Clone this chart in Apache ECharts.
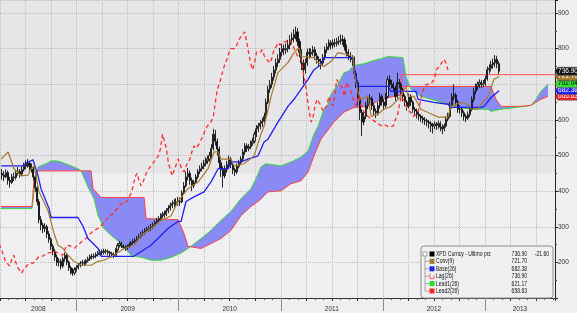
<!DOCTYPE html>
<html>
<head>
<meta charset="utf-8">
<script src="https://cdn.jsdelivr.net/npm/echarts@6/dist/echarts.min.js"></script>
<style>
  html, body { margin: 0; padding: 0; background: #efeef0; }
  #chart { width: 577px; height: 313px; }
</style>
</head>
<body>
<div id="chart"></div>
<script>
// weekly bars; week 0 is the first week of April 2008
const firstWeek = 2008.2703;
const weeksPerYear = 52.18;
const X_MIN = 2008.25, X_MAX = 2013.686;

const opens = [
  450,445,440,452,430,425,440,438,450,455,448,460,
  470,475,478,470,462,440,410,370,320,305,295,300,280,
  265,245,231,215,200,203,190,210,220,200,185,178,170,
  180,185,192,198,200,198,205,210,217,215,218,222,226,
  230,228,232,231,228,224,222,220,235,248,253,246,242,
  240,245,250,255,259,262,268,273,280,284,290,293,295,
  300,305,312,318,323,331,335,337,345,352,360,365,368,
  370,372,370,395,415,440,450,430,415,425,440,455,463,
  470,478,485,490,500,520,560,540,518,480,460,443,460,
  475,490,475,460,454,470,480,490,510,527,520,525,535,
  540,560,575,583,590,596,610,650,686,700,720,740,760,
  770,790,800,797,800,810,825,830,840,847,820,789,760,
  741,760,790,785,790,797,780,770,765,760,775,797,805,817,
  810,817,815,820,822,825,825,805,790,780,775,770,730,
  705,660,621,594,610,640,658,660,640,625,620,640,666,
  650,640,666,713,705,700,690,666,705,700,685,666,650,
  638,666,650,630,625,615,610,605,600,598,594,590,585,
  583,588,585,590,580,575,583,602,610,640,665,670,650,
  630,630,620,610,605,615,630,658,680,694,700,705,700,
  702,715,741,745,755,760,770,758
];
const closes = [
  445,440,452,430,425,440,438,450,455,448,460,470,
  475,478,470,462,440,410,370,320,305,295,300,280,265,
  245,231,215,200,203,190,210,220,200,185,178,170,180,
  185,192,198,200,198,205,210,217,215,218,222,226,230,
  228,232,231,228,224,222,220,235,248,253,246,242,240,
  245,250,255,259,262,268,273,280,284,290,293,295,300,
  305,312,318,323,331,335,337,345,352,360,365,368,370,
  372,370,395,415,440,450,430,415,425,440,455,463,470,
  478,485,490,500,520,560,540,518,480,460,443,460,475,
  490,475,460,454,470,480,490,510,527,520,525,535,540,
  560,575,583,590,596,610,650,686,700,720,740,760,770,
  790,800,797,800,810,825,830,840,847,820,789,760,741,
  760,790,785,790,797,780,770,765,760,775,797,805,817,810,
  817,815,820,822,825,825,805,790,780,775,770,730,705,
  660,621,594,610,640,658,660,640,625,620,640,666,650,
  640,666,713,705,700,690,666,705,700,685,666,650,638,
  666,650,630,625,615,610,605,600,598,594,590,585,583,
  588,585,590,580,575,583,602,610,640,665,670,650,630,
  630,620,610,605,615,630,658,680,694,700,705,700,702,
  715,741,745,755,760,770,758,737
];
const lows = [
  432,428,436,418,410,420,428,432,444,438,442,455,
  462,466,458,452,430,398,360,310,290,282,285,268,255,
  235,220,205,190,188,180,184,202,192,176,166,162,164,
  174,180,186,190,190,193,200,204,208,210,212,216,220,
  220,222,224,220,216,214,212,216,230,242,240,236,232,
  235,240,245,250,253,256,262,268,274,278,284,286,288,
  294,300,306,310,316,324,326,330,338,345,352,356,358,
  360,358,366,390,410,430,418,400,408,420,434,448,456,
  462,470,476,482,494,514,528,500,465,440,410,436,452,
  468,465,448,442,448,464,474,485,502,510,512,518,528,
  534,552,566,574,580,588,604,644,676,690,710,730,748,
  760,778,782,785,790,798,812,818,826,808,776,740,700,
  730,752,772,775,780,768,758,750,742,752,768,788,796,798,
  800,804,806,810,812,810,795,778,768,762,752,715,690,
  640,600,555,585,602,630,645,628,612,605,612,632,640,
  628,634,660,692,688,678,654,660,688,672,652,638,626,
  632,640,620,612,604,598,594,590,586,582,576,566,562,
  574,572,575,568,560,568,578,596,605,632,655,640,620,
  618,608,598,594,600,608,624,650,672,684,690,690,692,
  696,710,730,736,744,748,745,728
];
const highs = [
  462,456,461,458,440,448,452,458,468,462,470,480,
  486,490,484,478,468,446,415,378,330,312,310,306,288,
  270,252,238,222,212,210,216,228,225,205,190,184,186,
  192,198,204,207,206,210,216,222,224,225,228,232,236,
  236,238,238,236,232,230,228,240,254,260,258,250,248,
  250,256,260,265,268,274,280,286,290,296,300,302,308,
  312,318,325,330,338,342,345,352,360,368,374,378,380,
  384,382,402,425,455,465,458,438,432,448,462,472,480,
  488,495,500,510,532,575,572,548,525,488,470,472,485,
  500,496,480,466,478,488,498,518,535,534,532,542,550,
  568,585,592,600,606,620,660,696,712,732,752,772,784,
  802,814,812,815,825,838,845,855,862,858,828,798,770,
  772,800,802,800,808,805,788,778,772,785,806,815,826,824,
  826,828,830,835,840,838,832,812,798,790,782,778,738,
  712,670,630,622,650,668,672,666,648,632,650,676,672,
  658,675,722,725,712,706,696,733,715,706,690,672,656,
  674,672,655,636,632,622,616,612,608,604,600,596,592,
  596,594,598,596,588,590,610,620,650,675,700,676,656,
  640,636,626,616,624,640,666,690,702,708,714,712,712,
  724,750,756,766,772,782,780,765
];

// [week, value] vertices of the indicator lines
const conv = [[-0.5,490],[3.1,510],[6.1,463],[9.7,443],[13.3,445],[14.8,463],[16.4,471],[18.9,398],[23.5,345],[26.6,281],[28.6,248],[31.2,239],[33.7,220],[36.8,203],[40.4,192],[45.5,192],[49.1,203],[52.1,206],[57.2,220],[62.3,239],[67.4,248],[71,276],[76.1,295],[81.2,318],[86.4,331],[89.9,371],[95,407],[100.2,426],[105.3,463],[108.3,510],[110.4,510],[111.9,490],[117,490],[118.5,471],[123.7,477],[128.8,499],[132.3,560],[133.9,582],[137.5,666],[141,733],[146.1,761],[149.2,789],[151.8,803],[152.8,778],[159.4,775],[161.5,761],[164.5,750],[168.1,764],[171.7,789],[176.8,783],[179.4,778],[179.9,733],[181.9,677],[183.4,658],[187,666],[188.6,610],[192,616],[195.2,630],[198.8,638],[203.9,666],[206.4,694],[207.5,666],[210.5,666],[214.1,630],[222.8,608],[227.9,608],[229.4,638],[234.5,649],[238,644],[239.7,630],[243.2,630],[244.8,644],[248.3,666],[251.4,714],[254,722]];
const base = [[-0.5,471],[11.2,471],[12,479],[15.8,488],[18.4,443],[19.9,407],[24,351],[25,326],[38.8,326],[41.4,301],[43.9,267],[49.1,239],[50.6,217],[67.4,217],[76.1,248],[84.8,295],[89.9,315],[91.5,315],[94,371],[98.1,384],[103.2,398],[106.8,426],[110.4,463],[115.5,463],[117,482],[122.1,482],[125.7,490],[130.8,499],[133.9,538],[135.9,546],[141,594],[146.1,638],[149.2,658],[152.8,686],[156.4,714],[159.4,741],[163,755],[164.5,775],[179.4,775],[179.9,750],[181.9,694],[197.2,694],[198.8,680],[211.5,680],[212.6,658],[220.7,649],[227.9,644],[229.4,635],[244.8,635],[246.3,638],[249.9,663],[254,682]];
const lead1 = [[-0.5,351],[15.3,351],[16.4,401],[18.4,468],[22.5,477],[25,485],[27.6,485],[30.1,482],[35.3,471],[38.8,463],[40.4,457],[43.9,412],[47,379],[49.1,331],[52.1,295],[55.7,276],[60.8,253],[65.9,220],[72.6,212],[76.1,206],[81.2,206],[86.4,214],[91.5,226],[95,239],[101.7,267],[106.8,290],[111.9,318],[117,343],[122.1,379],[127.2,407],[129.8,435],[132.3,468],[134.9,477],[142.6,471],[147.7,482],[152.8,496],[156.4,513],[159.4,560],[161.5,582],[164.5,630],[166.6,644],[168.1,672],[171.7,700],[174.8,733],[176.8,736],[179.9,753],[185,758],[190.1,767],[193.7,772],[197.2,778],[204.9,775],[206.4,722],[209,686],[214.1,666],[219.2,658],[227.9,644],[233,635],[239.7,630],[248.3,630],[249.9,624],[255,630],[262.6,635],[270.3,641],[272.9,658],[275.4,680],[279,700]];
const lead2 = [[-0.5,357],[15.3,357],[16.4,435],[18.4,457],[45.5,457],[46.5,407],[50.6,382],[72.6,382],[73.6,323],[89.9,320],[93,281],[95,245],[101.7,239],[106.8,253],[111.9,267],[117,290],[122.1,331],[127.2,357],[131.3,373],[135.9,398],[142.6,401],[147.7,421],[152.8,429],[156.4,454],[157.9,477],[159.4,499],[163,546],[169.6,594],[174.8,622],[179.9,635],[187,638],[193.7,658],[200.3,666],[203.9,669],[205.4,694],[249.9,694],[252.4,658],[255,638],[265.2,638],[270.3,641],[275.4,658],[279,666]];
const refLine = [[203.9,694],[203.9,727],[283.1,727]];

const lagShift = 26;
const shadeFrom = 450;

const yearStarts = [2009, 2010, 2011, 2012, 2013];
const yearLabels = ['2008', '2009', '2010', '2011', '2012', '2013'];
const yearLabelPos = [2008.625, 2009.5, 2010.5, 2011.5, 2012.5, 2013.343];

const legendNames = ['XPD Curncy - Ultimo prz', 'Conv(9)', 'Base(26)', 'Lag(26)', 'Lead1(26)', 'Lead2(26)'];
const legendValues = ['736.90', '721.70', '682.38', '736.90', '621.17', '658.63'];
const legendColors = ['#000000', '#a47a2c', '#1f1fee', '#ff3030', '#22dd22', '#ff2020'];
const lastChange = '-21.60';

const tagValues = [666.63, 682.38, 702.04, 721.70, 736.90];
const tagTexts = ['666.63', '682.38', '702.04', '721.70', '736.90'];
const tagFill = ['#ee2222', '#2222ee', '#33dd33', '#a47a2c', '#111111'];
const tagInk = ['#fff', '#fff', '#000', '#fff', '#fff'];

function wkToYear(w) { return firstWeek + w / weeksPerYear; }
function toXY(list) { return list.map(p => [wkToYear(p[0]), p[1]]); }

const candles = closes.map((c, i) => [wkToYear(i), opens[i], c, lows[i], highs[i]]);
const lag = closes.map((c, i) => [wkToYear(i - lagShift), c]);

const chart = echarts.init(document.getElementById('chart'));
const font = 'Liberation Sans';
const legendFont = '7px "Liberation Sans", sans-serif';

chart.setOption({
  animation: false,
  backgroundColor: '#efeef0',
  grid: { left: -1, right: 22, top: 0, bottom: 13 },
  xAxis: [{
    type: 'value', min: X_MIN, max: X_MAX, interval: 0.25, position: 'bottom',
    axisLine: { onZero: false, lineStyle: { color: '#333' } },
    axisTick: { length: 3, lineStyle: { color: '#333' } },
    minorTick: { show: true, splitNumber: 3, length: 2, lineStyle: { color: '#555' } },
    axisLabel: { show: false },
    splitLine: { show: true, lineStyle: { color: '#bdbdbd', type: 'dotted' } }
  }, {
    type: 'value', min: X_MIN, max: X_MAX, position: 'bottom',
    axisLine: { show: false, onZero: false },
    axisTick: { show: true, customValues: yearStarts, length: 13, lineStyle: { color: '#8a8a8a' } },
    axisLabel: {
      customValues: yearLabelPos, margin: 8, fontSize: 6.5, color: '#333', fontFamily: font,
      formatter: v => {
        let k = 0;
        yearLabelPos.forEach((p, i) => { if (Math.abs(p - v) < Math.abs(yearLabelPos[k] - v)) k = i; });
        return yearLabels[k];
      }
    },
    splitLine: { show: false }
  }],
  yAxis: {
    type: 'value', position: 'right', min: 100, max: 936.7, interval: 100,
    axisLine: { show: true, lineStyle: { color: '#222' } },
    axisTick: { show: true, length: 3, lineStyle: { color: '#222' } },
    minorTick: { show: true, splitNumber: 2, length: 2, lineStyle: { color: '#444' } },
    axisLabel: { showMinLabel: false, showMaxLabel: false, fontSize: 6.5, color: '#333', margin: 3, fontFamily: font },
    splitLine: { lineStyle: { color: '#bdbdbd', type: 'dotted' } }
  },
  series: [
    {
      // cloud between Lead1 and Lead2
      type: 'custom', silent: true, z: 1,
      data: [[2010, 500]],
      renderItem: function (params, api) {
        const pts = toXY(lead1).map(p => api.coord(p))
          .concat(toXY(lead2).reverse().map(p => api.coord(p)));
        return { type: 'polygon', shape: { points: pts }, style: { fill: '#8a8af4' } };
      }
    },
    { type: 'line', data: toXY(lead1), showSymbol: false, z: 2, lineStyle: { color: '#33dd33', width: 1 } },
    { type: 'line', data: toXY(lead2), showSymbol: false, z: 2, lineStyle: { color: '#ff4040', width: 1 } },
    { type: 'line', data: toXY(refLine), showSymbol: false, z: 2, lineStyle: { color: '#ff5050', width: 1 } },
    {
      type: 'candlestick', data: candles, barWidth: 1.6, z: 3,
      itemStyle: { color: '#d8d8d8', color0: '#111111', borderColor: '#111111', borderColor0: '#111111', borderWidth: 0.9 }
    },
    { type: 'line', data: lag, showSymbol: false, z: 4, lineStyle: { color: '#ff2a2a', width: 1.3, type: [4, 3] } },
    { type: 'line', data: toXY(base), showSymbol: false, z: 4, lineStyle: { color: '#1f1fee', width: 1.3 } },
    { type: 'line', data: toXY(conv), showSymbol: false, z: 4, lineStyle: { color: '#a47a2c', width: 1.2 } }
  ]
});

// shaded band, value tags on the axis, and the legend box
const yPx = v => chart.convertToPixel({ yAxisIndex: 0 }, v);
const xRight = chart.convertToPixel({ xAxisIndex: 0 }, X_MAX);
const graphics = [{
  type: 'rect', z: -1, silent: true,
  shape: { x: 0, y: yPx(936.7), width: xRight, height: yPx(shadeFrom) - yPx(936.7) },
  style: { fill: '#e6e5e7' }
}];

tagValues.forEach((v, i) => {
  const yc = yPx(v);
  graphics.push({
    type: 'polygon', z: 50 + i,
    shape: { points: [[xRight, yc], [xRight + 3, yc - 4], [577, yc - 4], [577, yc + 4], [xRight + 3, yc + 4]] },
    style: { fill: tagFill[i], stroke: '#555', lineWidth: 0.5 }
  });
  graphics.push({
    type: 'text', z: 50 + i, x: xRight + 13, y: yc,
    style: { text: tagTexts[i], fill: tagInk[i], font: '6.5px ' + font, align: 'center', verticalAlign: 'middle' }
  });
});

// narrow legend lettering: squeeze the text horizontally
const squeeze = 0.72;
const bx = 421, by = 246, rowH = 7.4;
graphics.push({
  type: 'rect', z: 60,
  shape: { x: bx, y: by, width: 132, height: 52, r: 3 },
  style: { fill: '#f0f0f0', stroke: '#8c8c8c', lineWidth: 1 }
});
graphics.push({ type: 'rect', z: 61, shape: { x: 423, y: 252, width: 4, height: 4 }, style: { fill: '#fff', stroke: '#666', lineWidth: 0.6 } });
graphics.push({ type: 'line', z: 61, shape: { x1: 425, y1: 256, x2: 425, y2: 291 }, style: { stroke: '#777', lineWidth: 0.6 } });
legendNames.forEach((name, i) => {
  const yc = 254 + i * rowH;
  if (i > 0) graphics.push({ type: 'line', z: 61, shape: { x1: 425, y1: yc, x2: 429, y2: yc }, style: { stroke: '#777', lineWidth: 0.6 } });
  if (name.indexOf('Lag') === 0) {
    graphics.push({ type: 'polyline', z: 61, shape: { points: [[430, yc - 2.5], [430, yc + 2.5], [434, yc + 2.5], [434, yc - 1]] }, style: { stroke: legendColors[i], lineWidth: 0.8, fill: null } });
  } else {
    graphics.push({ type: 'rect', z: 61, shape: { x: 429.5, y: yc - 2.5, width: 5, height: 5 }, style: { fill: legendColors[i] } });
  }
  graphics.push({ type: 'text', z: 61, x: 436, y: yc, scaleX: squeeze, style: { text: name, fill: '#111', font: legendFont, verticalAlign: 'middle' } });
  graphics.push({ type: 'text', z: 61, x: 527, y: yc, scaleX: squeeze, style: { text: legendValues[i], fill: '#111', font: legendFont, align: 'right', verticalAlign: 'middle' } });
});
graphics.push({ type: 'text', z: 61, x: 549, y: 254, scaleX: squeeze, style: { text: lastChange, fill: '#111', font: legendFont, align: 'right', verticalAlign: 'middle' } });

chart.setOption({ graphic: graphics });
</script>
</body>
</html>
